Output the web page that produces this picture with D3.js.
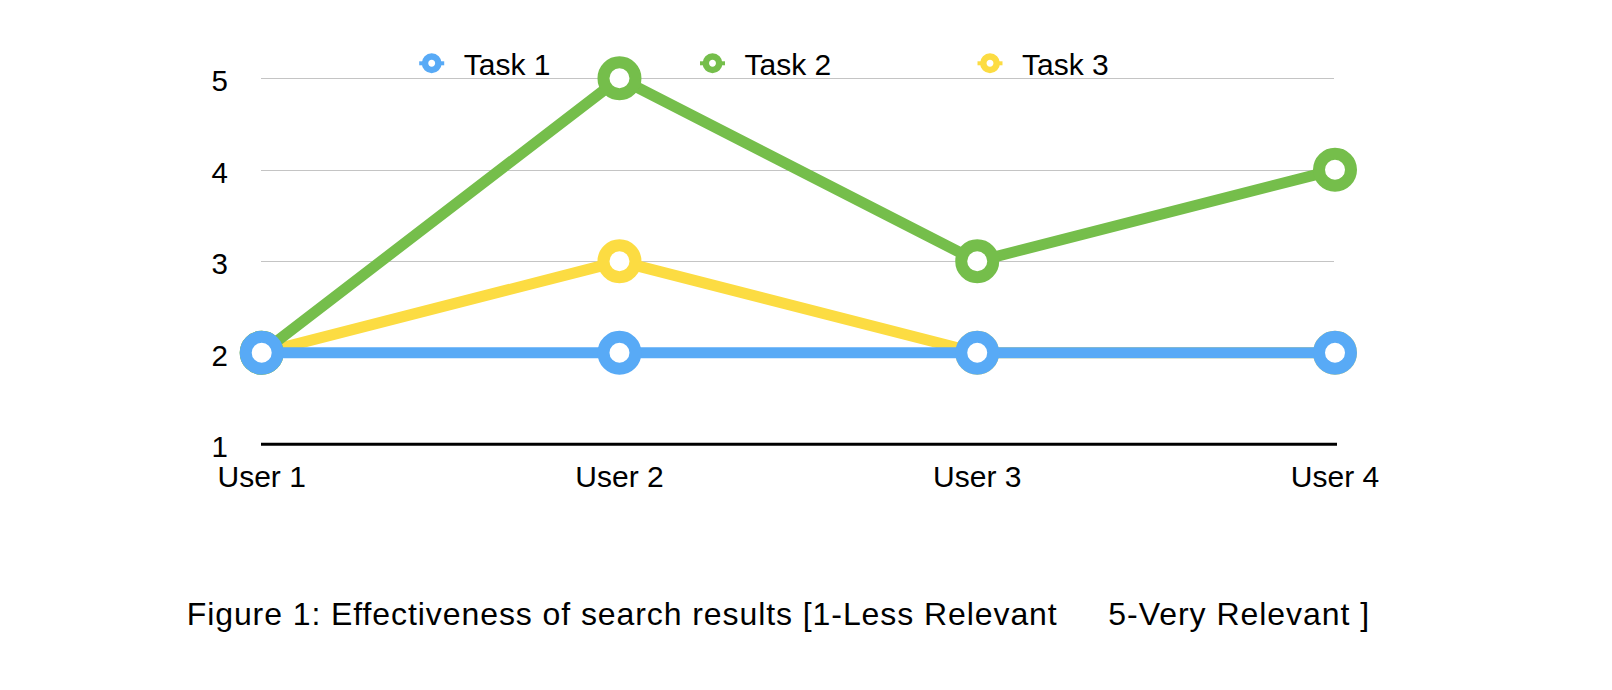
<!DOCTYPE html>
<html>
<head>
<meta charset="utf-8">
<script src="https://cdn.jsdelivr.net/npm/d3@7"></script>
<style>
  html, body { margin: 0; padding: 0; background: #fff; }
  svg { display: block; font-family: "Liberation Sans", Arial, Helvetica, sans-serif; }
</style>
</head>
<body>
<svg id="chart" width="1612" height="690"></svg>
<script>
const users = ["User 1", "User 2", "User 3", "User 4"];
const seriesNames = ["Task 1", "Task 2", "Task 3"];
const task1 = [2, 2, 2, 2];
const task2 = [2, 5, 3, 4];
const task3 = [2, 3, 2, 2];
const colors = ["#58aaf6", "#75be4b", "#fcdc42"];
const yTicks = [1, 2, 3, 4, 5];
const captionLeft = "Figure 1: Effectiveness of search results [1-Less Relevant";
const captionRight = "5-Very Relevant ]";

const series = [
  { name: seriesNames[0], values: task1, color: colors[0] },
  { name: seriesNames[1], values: task2, color: colors[1] },
  { name: seriesNames[2], values: task3, color: colors[2] }
];

const svg = d3.select("#chart");
const x = d3.scalePoint().domain(users).range([261.7, 1335]);
const y = d3.scaleLinear().domain([1, 5]).range([444.3, 78.3]);

// gridlines
svg.append("g").selectAll("line")
  .data(yTicks.filter(t => t > 1))
  .join("line")
  .attr("x1", 261).attr("x2", 1334)
  .attr("y1", d => Math.round(y(d)) + 0.5).attr("y2", d => Math.round(y(d)) + 0.5)
  .attr("stroke", "#c4c4c4").attr("stroke-width", 1);

// x axis baseline
svg.append("line")
  .attr("x1", 261).attr("x2", 1337)
  .attr("y1", y(1)).attr("y2", y(1))
  .attr("stroke", "#000").attr("stroke-width", 3);

// y labels
svg.append("g").selectAll("text")
  .data(yTicks)
  .join("text")
  .attr("x", 228).attr("y", d => y(d) + 13)
  .attr("text-anchor", "end")
  .attr("font-size", 29.5)
  .attr("fill", "#000")
  .text(d => d);

// x labels
svg.append("g").selectAll("text")
  .data(users)
  .join("text")
  .attr("x", d => x(d)).attr("y", 486.7)
  .attr("text-anchor", "middle")
  .attr("font-size", 30)
  .attr("fill", "#000")
  .text(d => d);

// lines (draw in reverse so Task 1 is on top)
const line = d3.line().x((d, i) => x(users[i])).y(d => y(d));
const drawOrder = series.slice().reverse();
const gS = svg.append("g").selectAll("g").data(drawOrder).join("g");
gS.append("path")
  .attr("d", d => line(d.values))
  .attr("fill", "none")
  .attr("stroke", d => d.color)
  .attr("stroke-width", 11)
  .attr("stroke-linejoin", "miter");
gS.selectAll("circle")
  .data(d => d.values.map((v, i) => ({ v, i, color: d.color })))
  .join("circle")
  .attr("cx", d => x(users[d.i])).attr("cy", d => y(d.v))
  .attr("r", 16)
  .attr("fill", "#fff")
  .attr("stroke", d => d.color)
  .attr("stroke-width", 12);

// legend
const legendX = [431.7, 712.5, 990];
const lg = svg.append("g").selectAll("g").data(series).join("g")
  .attr("transform", (d, i) => `translate(${legendX[i]},63.3)`);
lg.append("line")
  .attr("x1", -12.5).attr("x2", 12.5)
  .attr("stroke", d => d.color).attr("stroke-width", 4);
lg.append("circle")
  .attr("r", 6.7).attr("fill", "#fff")
  .attr("stroke", d => d.color).attr("stroke-width", 6.5);
lg.append("text")
  .attr("x", 32).attr("y", 11.7)
  .attr("font-size", 30).attr("fill", "#000")
  .text(d => d.name);

// caption
svg.append("text")
  .attr("x", 186.7).attr("y", 625)
  .attr("font-size", 32).attr("letter-spacing", "0.92px")
  .attr("fill", "#000")
  .text(captionLeft);
svg.append("text")
  .attr("x", 1108.3).attr("y", 625)
  .attr("font-size", 32).attr("letter-spacing", "0.96px")
  .attr("fill", "#000")
  .text(captionRight);
</script>
</body>
</html>
